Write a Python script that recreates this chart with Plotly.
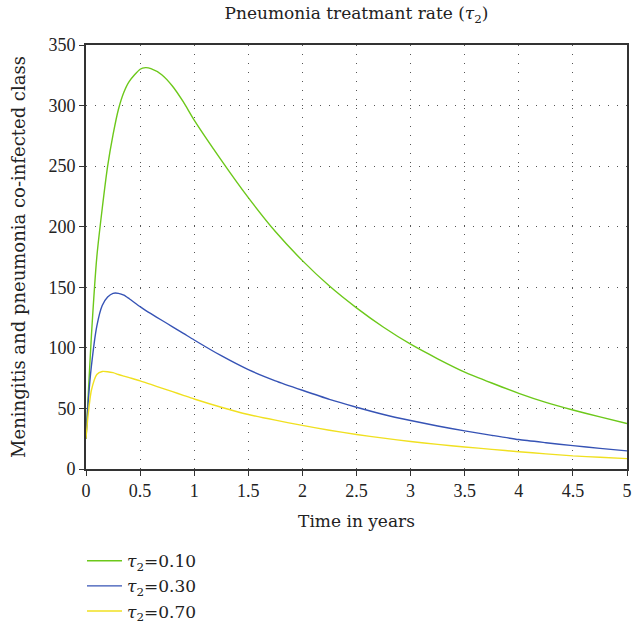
import plotly.graph_objects as go

# Time points (years)
t = [0, 0.02, 0.05, 0.1, 0.15, 0.2, 0.25, 0.3, 0.35, 0.4, 0.5, 0.55, 0.6, 0.7, 0.8, 0.9,
     1.0, 1.25, 1.5, 1.75, 2.0, 2.25, 2.5, 2.75, 3.0, 3.25, 3.5, 3.75, 4.0, 4.25, 4.5, 4.75, 5.0]

# tau2 = 0.10 (green)
green = [25, 60, 110, 175, 215, 250, 276, 297, 311, 320, 330, 331.3, 330.5, 325.5, 316, 303,
         288, 255, 224, 196, 172, 151, 133, 117, 103, 91, 80, 71, 62.5, 55, 48.7, 43, 37.5]

# tau2 = 0.30 (blue)
blue = [25, 55, 85, 118, 135, 142, 145, 145, 143.5, 140.5, 134, 131, 128.2, 122.8, 117.4, 112,
        106.5, 93.5, 82, 72.8, 65, 57.5, 51, 45, 40, 35.5, 31.5, 27.8, 24.3, 21.7, 19.3, 17, 15]

# tau2 = 0.70 (yellow)
yellow = [25, 45, 65, 78, 80.5, 80.3, 79.5, 78, 76.7, 75.4, 72.8, 71.3, 69.8, 66.8, 63.8, 60.8,
          57.8, 51, 45, 40.3, 36, 32, 28.5, 25.5, 22.7, 20.3, 18.2, 16.2, 14.3, 12.5, 10.8, 9.7, 8.6]

names = ["<i>τ</i><sub>2</sub>=0.10", "<i>τ</i><sub>2</sub>=0.30", "<i>τ</i><sub>2</sub>=0.70"]
colors = ["#6cc81a", "#3653b5", "#f0e020"]

x_ticks = [0, 0.5, 1, 1.5, 2, 2.5, 3, 3.5, 4, 4.5, 5]
x_tick_text = ["0", "0.5", "1", "1.5", "2", "2.5", "3", "3.5", "4", "4.5", "5"]
y_ticks = [0, 50, 100, 150, 200, 250, 300, 350]

fig = go.Figure()
for ys, nm, c in zip([green, blue, yellow], names, colors):
    fig.add_trace(go.Scatter(x=t, y=ys, mode="lines", name=nm,
                             line=dict(color=c, width=1.4, shape="spline", smoothing=0.6)))

text_font = "DejaVu Serif"
tick_font = "Liberation Serif"
fig.update_layout(
    width=639, height=629,
    margin=dict(l=86, r=12, t=45, b=160, autoexpand=False),
    paper_bgcolor="white", plot_bgcolor="white",
    font=dict(family=text_font, size=17, color="#222"),
    title=dict(text="Pneumonia treatmant rate (<i>τ</i><sub>2</sub>)", x=0.5, xref="paper",
               xanchor="center", y=0.988, yanchor="top", font=dict(size=17, family=text_font)),
    showlegend=True,
    legend=dict(orientation="v", x=-0.0074, xanchor="left", y=-0.175, yanchor="top",
                font=dict(size=17, family=text_font), bgcolor="rgba(0,0,0,0)",
                itemwidth=35),
)
fig.update_xaxes(
    range=[0, 5], tickvals=x_ticks, ticktext=x_tick_text,
    showline=True, linecolor="#333", linewidth=1.6, mirror=True,
    ticks="outside", ticklen=5, tickcolor="#333", tickwidth=1.4,
    showgrid=True, gridcolor="#555", gridwidth=1, griddash="1px,8px",
    zeroline=False,
    title=dict(text="Time in years", font=dict(size=17, family=text_font), standoff=15),
    tickfont=dict(size=18, family=tick_font),
)
fig.update_yaxes(
    range=[0, 350], tickvals=y_ticks,
    showline=True, linecolor="#333", linewidth=1.6, mirror=True,
    ticks="outside", ticklen=5, tickcolor="#333", tickwidth=1.4,
    showgrid=True, gridcolor="#555", gridwidth=1, griddash="1px,8px",
    zeroline=False,
    title=dict(text="Meningitis and pneumonia co-infected class",
               font=dict(size=18, family=text_font), standoff=18),
    tickfont=dict(size=18, family=tick_font),
)

fig.write_html("out.html")
